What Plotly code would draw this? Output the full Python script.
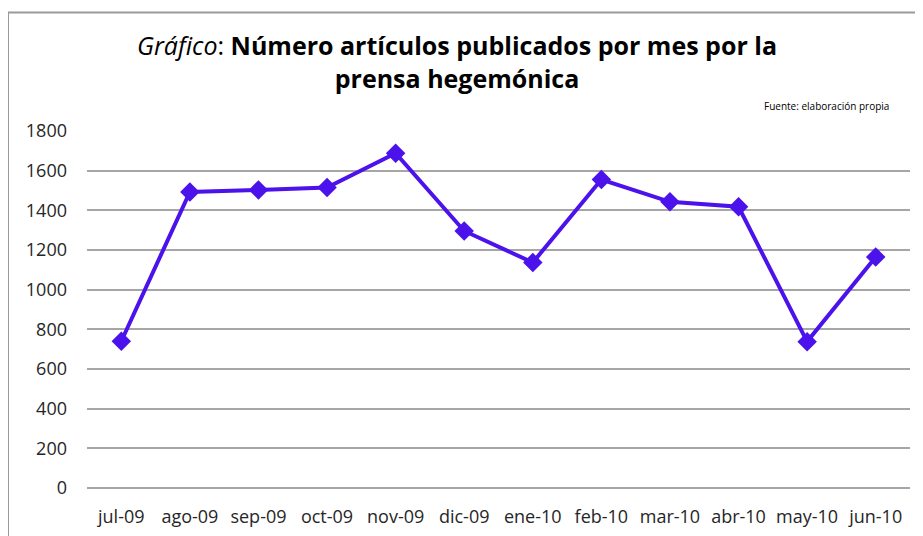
import plotly.graph_objects as go

# Monthly article counts
months = ['jul-09', 'ago-09', 'sep-09', 'oct-09', 'nov-09', 'dic-09',
          'ene-10', 'feb-10', 'mar-10', 'abr-10', 'may-10', 'jun-10']
articles = [740, 1493, 1503, 1515, 1688, 1296,
            1137, 1555, 1443, 1418, 738, 1165]
y_ticks = [0, 200, 400, 600, 800, 1000, 1200, 1400, 1600, 1800]

LINE_COLOR = '#4B12EC'
GRID_COLOR = '#A6A6A6'
FONT = 'Open Sans'

FIG_W, FIG_H = 923, 536
# the page body has an 8px margin, so figure pixels = page pixels - 8
OFF = 8

# plot area wanted on the page: x 87..910, y 131..488
L = 87 - OFF
R = FIG_W - (910 - OFF)
T = 131 - OFF
B = FIG_H - (488 - OFF)
W = FIG_W - L - R
H = FIG_H - T - B


def px_x(x):
    # page x pixel -> paper coordinate
    return (x - OFF - L) / W


def px_y(y):
    # page y pixel -> paper coordinate
    return (FIG_H - B - (y - OFF)) / H


fig = go.Figure()

fig.add_trace(go.Scatter(
    x=months,
    y=articles,
    mode='lines+markers',
    line=dict(color=LINE_COLOR, width=4),
    marker=dict(symbol='diamond', size=15, color=LINE_COLOR),
    showlegend=False,
))

fig.update_layout(
    width=FIG_W,
    height=FIG_H,
    margin=dict(l=L, r=R, t=T, b=B),
    paper_bgcolor='white',
    plot_bgcolor='white',
    font=dict(family=FONT, color='#262626'),
    title=dict(
        text='<i>Gráfico</i>: <b>Número artículos publicados por mes por la</b>'
             '<br><b>prensa hegemónica</b>',
        xref='container',
        yref='container',
        x=(457 - OFF) / FIG_W,
        xanchor='center',
        y=1 - (55 - OFF) / FIG_H,
        yanchor='middle',
        font=dict(size=25, color='#000000', family=FONT),
    ),
    xaxis=dict(
        type='category',
        range=[-0.5, len(months) - 0.5],
        showgrid=False,
        showline=False,
        zeroline=False,
        ticks='',
        tickfont=dict(size=18, color='#262626'),
        ticklabelstandoff=16,
    ),
    yaxis=dict(
        range=[0, 1800],
        tickvals=y_ticks,
        showgrid=True,
        gridcolor=GRID_COLOR,
        gridwidth=1.5,
        zeroline=True,
        zerolinecolor=GRID_COLOR,
        zerolinewidth=1.5,
        showline=False,
        ticks='',
        tickfont=dict(size=18, color='#262626'),
        ticklabelstandoff=19,
    ),
    annotations=[
        dict(
            text='Fuente: elaboración propia',
            xref='paper', yref='paper',
            x=px_x(891), y=px_y(106),
            xanchor='right', yanchor='middle',
            showarrow=False,
            font=dict(size=10, color='#000000', family=FONT),
        ),
    ],
    shapes=[
        # chart frame, cut off at the right and bottom like the screenshot
        dict(type='line', xref='paper', yref='paper',
             x0=px_x(8), x1=px_x(960), y0=px_y(12.5), y1=px_y(12.5),
             line=dict(color='#9A9A9A', width=2)),
        dict(type='line', xref='paper', yref='paper',
             x0=px_x(8), x1=px_x(8), y0=px_y(12.5), y1=px_y(580),
             line=dict(color='#9A9A9A', width=2)),
    ],
)

fig.write_html('out.html')
